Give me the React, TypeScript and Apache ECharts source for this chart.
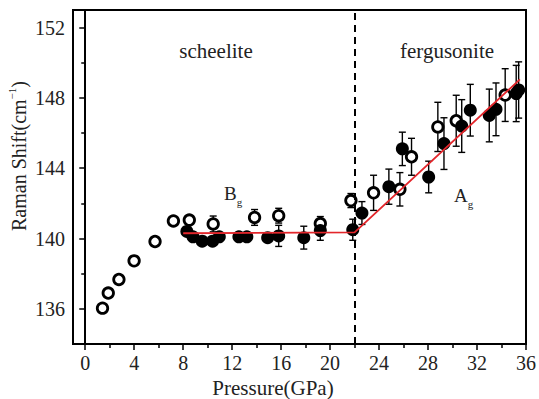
import React, { useEffect, useRef } from "react";
import * as echarts from "echarts";

// Open circles: pressure (GPa), Raman shift (cm-1), error half-width
const openX = [1.41, 1.88, 2.75, 3.99, 5.7, 7.2, 8.5, 10.45, 13.83, 15.8, 19.2, 21.7, 23.55, 25.7, 26.65, 28.8, 30.3, 34.3];
const openY = [136.04, 136.9, 137.67, 138.73, 139.83, 141.0, 141.05, 140.83, 141.2, 141.3, 140.85, 142.16, 142.6, 142.8, 144.65, 146.35, 146.7, 148.16];
const openErr = [0, 0, 0, 0, 0, 0, 0, 0.45, 0.45, 0.42, 0.4, 0.4, 1.0, 0.95, 1.05, 1.4, 1.45, 1.5];

// Filled circles
const filledX = [8.3, 8.8, 9.55, 10.4, 10.95, 12.55, 13.2, 14.9, 15.8, 17.85, 19.2, 21.85, 22.6, 24.8, 25.9, 28.05, 29.3, 30.75, 31.45, 33.0, 33.55, 35.2, 35.4];
const filledY = [140.4, 140.1, 139.85, 139.85, 140.1, 140.1, 140.1, 140.05, 140.15, 140.05, 140.45, 140.5, 141.45, 142.95, 145.1, 143.5, 145.4, 146.4, 147.3, 147.0, 147.35, 148.25, 148.45];
const filledErr = [0, 0, 0, 0, 0, 0, 0, 0, 0.6, 0.65, 0.55, 0.6, 0.65, 1.0, 0.95, 0.9, 1.47, 1.5, 1.47, 1.5, 1.5, 1.6, 1.6];

// Linear fits (red)
const fitX = [8, 22, 35.5];
const fitY = [140.3, 140.35, 149.05];

const transitionP = 22;

const xTicks = [0, 4, 8, 12, 16, 20, 24, 28, 32, 36];
const xMinorTicks = [2, 6, 10, 14, 18, 22, 26, 30, 34];
const yTicks = [136, 140, 144, 148, 152];
const yMinorTicks = [138, 142, 146, 150];

const FONT = "Liberation Serif";
const TXT = "#222";

export default function App() {
  const ref = useRef<HTMLDivElement>(null);
  useEffect(() => {
    if (!ref.current) return;
    const chart = echarts.init(ref.current, undefined, { renderer: "svg" });
    const openData = openX.map((x, i) => [x, openY[i], openErr[i]]);
    const filledData = filledX.map((x, i) => [x, filledY[i], filledErr[i]]);
    const errData = [...openData, ...filledData].filter((d) => d[2] > 0);
    const fitData = fitX.map((x, i) => [x, fitY[i]]);

    const axisCommonX = {
      type: "value" as const,
      min: -1,
      max: 36,
      position: "bottom" as const,
      splitLine: { show: false },
    };
    const axisCommonY = {
      type: "value" as const,
      min: 134,
      max: 153,
      position: "left" as const,
      splitLine: { show: false },
    };
    const txt = (size: number) => ({ fontSize: size, fontFamily: FONT, fill: TXT });

    chart.setOption({
      animation: false,
      backgroundColor: "#fff",
      grid: {
        left: 73,
        right: 12,
        top: 10,
        bottom: 55,
        show: true,
        borderColor: "#000",
        borderWidth: 2,
        backgroundColor: "transparent",
      },
      xAxis: [
        {
          ...axisCommonX,
          axisLine: { show: true, lineStyle: { color: "#000", width: 2 } },
          axisTick: { show: true, customValues: xTicks, length: 6, inside: false, lineStyle: { color: "#000", width: 1.5 } },
          axisLabel: { show: true, customValues: xTicks, fontSize: 20, fontFamily: FONT, color: TXT, margin: 9 },
        },
        {
          ...axisCommonX,
          axisLine: { show: false },
          axisTick: { show: true, customValues: xMinorTicks, length: 4, inside: false, lineStyle: { color: "#000", width: 1.5 } },
          axisLabel: { show: false },
        },
      ],
      yAxis: [
        {
          ...axisCommonY,
          axisLine: { show: true, lineStyle: { color: "#000", width: 2 } },
          axisTick: { show: true, customValues: yTicks, length: 6, inside: false, lineStyle: { color: "#000", width: 1.5 } },
          axisLabel: { show: true, customValues: yTicks, fontSize: 20, fontFamily: FONT, color: TXT, margin: 8 },
        },
        {
          ...axisCommonY,
          axisLine: { show: false },
          axisTick: { show: true, customValues: yMinorTicks, length: 4, inside: false, lineStyle: { color: "#000", width: 1.5 } },
          axisLabel: { show: false },
        },
      ],
      series: [
        {
          type: "custom",
          name: "errors",
          xAxisIndex: 0,
          yAxisIndex: 0,
          data: errData,
          encode: { x: 0, y: 1 },
          z: 2,
          renderItem: (params: any, api: any) => {
            const x = api.value(0);
            const y = api.value(1);
            const e = api.value(2);
            const top = api.coord([x, y + e]);
            const bot = api.coord([x, y - e]);
            const w = 3.5;
            const st = { stroke: "#000", lineWidth: 1.4 };
            return {
              type: "group",
              children: [
                { type: "line", shape: { x1: top[0], y1: top[1], x2: bot[0], y2: bot[1] }, style: st },
                { type: "line", shape: { x1: top[0] - w, y1: top[1], x2: top[0] + w, y2: top[1] }, style: st },
                { type: "line", shape: { x1: bot[0] - w, y1: bot[1], x2: bot[0] + w, y2: bot[1] }, style: st },
              ],
            };
          },
        },
        {
          type: "scatter",
          name: "open",
          data: openData,
          symbol: "circle",
          symbolSize: 10.5,
          z: 3,
          itemStyle: { color: "#fff", borderColor: "#000", borderWidth: 2.8, opacity: 1 },
        },
        {
          type: "scatter",
          name: "filled",
          data: filledData,
          symbol: "circle",
          symbolSize: 13,
          z: 4,
          itemStyle: { color: "#000", opacity: 1 },
        },
        {
          type: "line",
          name: "fit",
          data: fitData,
          symbol: "none",
          z: 5,
          lineStyle: { color: "#e3262b", width: 1.8 },
          markLine: {
            silent: true,
            symbol: ["none", "none"],
            label: { show: false },
            lineStyle: { color: "#000", width: 2, type: [7, 5] },
            data: [{ xAxis: transitionP }],
          },
        },
      ],
      graphic: [
        {
          type: "text",
          x: 216,
          y: 51,
          style: { text: "scheelite", ...txt(21), textAlign: "center", textVerticalAlign: "middle" },
        },
        {
          type: "text",
          x: 447,
          y: 51,
          style: { text: "fergusonite", ...txt(21), textAlign: "center", textVerticalAlign: "middle" },
        },
        {
          type: "text",
          x: 224,
          y: 193,
          style: {
            text: "{b|B}{s|g}",
            ...txt(19),
            textAlign: "left",
            textVerticalAlign: "middle",
            rich: {
              b: { ...txt(19), lineHeight: 28 },
              s: { ...txt(11), lineHeight: 14, verticalAlign: "bottom" },
            },
          },
        },
        {
          type: "text",
          x: 454,
          y: 195,
          style: {
            text: "{b|A}{s|g}",
            ...txt(19),
            textAlign: "left",
            textVerticalAlign: "middle",
            rich: {
              b: { ...txt(19), lineHeight: 28 },
              s: { ...txt(11), lineHeight: 14, verticalAlign: "bottom" },
            },
          },
        },
        {
          type: "text",
          x: 273,
          y: 388,
          style: { text: "Pressure(GPa)", ...txt(21), textAlign: "center", textVerticalAlign: "middle" },
        },
        {
          type: "text",
          x: 19,
          y: 156,
          rotation: Math.PI / 2,
          style: {
            text: "{m|Raman Shift(cm}{s|−1}{m|)}",
            ...txt(20),
            textAlign: "center",
            textVerticalAlign: "middle",
            rich: {
              m: { ...txt(20), lineHeight: 26 },
              s: { ...txt(11), lineHeight: 13, verticalAlign: "top" },
            },
          },
        },
      ],
    });
    return () => chart.dispose();
  }, []);
  return <div ref={ref} style={{ position: "fixed", left: 0, top: 0, width: 539, height: 399 }} />;
}
